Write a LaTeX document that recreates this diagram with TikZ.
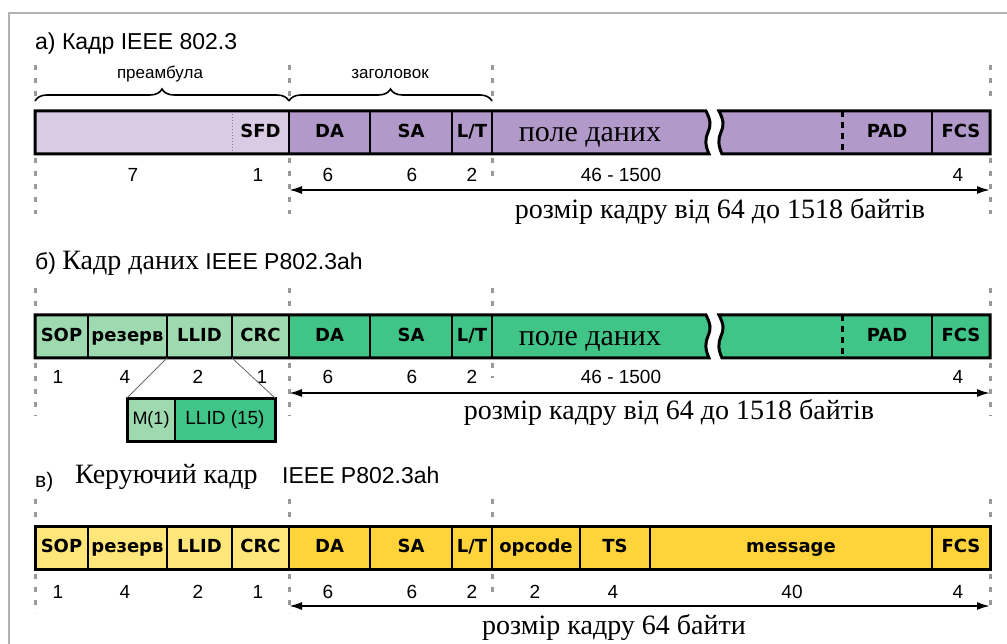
\documentclass[tikz,border=0pt]{standalone}
\usepackage{fontspec}
\setmainfont{Liberation Serif}
\newfontfamily\sansf{Liberation Sans}
\newfontfamily\cellf{DejaVu Sans}
\usetikzlibrary{arrows.meta, decorations.pathreplacing, positioning}

\definecolor{purLight}{RGB}{218,203,228}
\definecolor{purDark}{RGB}{177,153,201}
\definecolor{grnLight}{RGB}{158,217,176}
\definecolor{grnDark}{RGB}{64,196,136}
\definecolor{ylwLight}{RGB}{255,230,122}
\definecolor{ylwDark}{RGB}{255,212,58}

% хвилясті краї розриву поля даних
\newcommand{\wavedown}{.. controls +(5,10) and +(3,-7) .. ++(2,21) .. controls +(-3,7) and +(-4,-9) .. ++(1,22)}
\newcommand{\waveup}{.. controls +(-4,-9) and +(-3,7) .. ++(-1,-22) .. controls +(3,-7) and +(5,10) .. ++(-2,-21)}

\tikzset{
  cell/.style={draw=black, line width=1.3pt, inner sep=0pt, outer sep=0pt,
    minimum height=43pt, text height=13pt, text depth=3pt,
    font=\cellf\bfseries\fontsize{18}{21}\selectfont},
  frame/.style={line width=3pt, line join=miter},
  guide/.style={draw=black!40, line width=3pt, dash pattern=on 5pt off 8pt},
  num/.style={font=\sansf\fontsize{19}{22}\selectfont, inner sep=0pt},
  sizetext/.style={font=\fontsize{28}{32}\selectfont, inner sep=0pt},
  title/.style={font=\sansf\fontsize{23}{27}\selectfont, inner sep=0pt},
  fieldtext/.style={font=\fontsize{30}{34}\selectfont, inner sep=0pt, anchor=base},
  small/.style={font=\sansf\fontsize{17}{20}\selectfont, inner sep=0pt},
  span/.style={{Latex[length=13pt,width=8pt]}-{Latex[length=13pt,width=8pt]}, line width=2pt},
  brace/.style={decorate, decoration={brace, amplitude=12pt}, line width=1.6pt}
}

\begin{document}
\begin{tikzpicture}[x=1pt, y=-1pt]
    \useasboundingbox (0,0) rectangle (1007,644);
    % рамка
    \draw[gray!60, line width=2pt] (9,644) -- (9,13) -- (1007,13);

    % ---------- а) Кадр IEEE 802.3 ----------
    \node[title, anchor=base west] (aTitle) at (35,50) {а) Кадр IEEE 802.3};
    \foreach \x in {35,289,492,990} \draw[guide] (\x,65) -- (\x,102);
    \foreach \x in {35,289,990} \draw[guide] (\x,158) -- (\x,214);
    \draw[guide] (492,158) -- (492,180);

    \coordinate (preL) at (35,101);
    \coordinate (preR) at (289,101);
    \coordinate (hdrR) at (492,101);
    \draw[brace] (preL) -- (preR);
    \draw[brace] (preR) -- (hdrR);
    \node[small] (aPreText) at (160,74) {преамбула};
    \node[small] (aHdrText) at (390,74) {заголовок};

    \node[cell, draw=none, fill=purLight, minimum width=197pt] (aPre) at (133.5,132.5) {};
    \node[cell, draw=none, fill=purLight, minimum width=57pt] (aSFD) at (260.5,132.5) {SFD};
    \node[cell, fill=purDark, minimum width=81pt] (aDA) at (329.5,132.5) {DA};
    \node[cell, fill=purDark, minimum width=82pt] (aSA) at (411,132.5) {SA};
    \node[cell, fill=purDark, minimum width=40pt] (aLT) at (472,132.5) {L/T};
    \fill[purDark] (492,111) -- (706,111) \wavedown -- (492,154) -- cycle;
    \fill[purDark] (722,154) \waveup -- (842,111) -- (842,154) -- cycle;
    \node[fieldtext] (aData) at (590,142) {поле даних};
    \node[cell, draw=none, fill=purDark, minimum width=90pt] (aPAD) at (887,132.5) {PAD};
    \node[cell, fill=purDark, minimum width=58pt] (aFCS) at (961,132.5) {FCS};
    \draw[gray, dotted, line width=1pt] (aSFD.north west) -- (aSFD.south west);
    \draw[line width=3pt, dash pattern=on 6pt off 5pt] (aPAD.north west) -- (aPAD.south west);
    \draw[line width=2.5pt] (aLT.north east) -- (aLT.south east);
    \draw[frame] (35,111) -- (706,111) \wavedown -- (35,154) -- cycle;
    \draw[frame] (722,154) \waveup -- (990,111) -- (990,154) -- cycle;

    \node[num] (aN1) at (133,175) {7};
    \node[num] (aN2) at (258,175) {1};
    \node[num] (aN3) at (328,175) {6};
    \node[num] (aN4) at (412,175) {6};
    \node[num] (aN5) at (472,175) {2};
    \node[num] (aN6) at (621,175) {46 - 1500};
    \node[num] (aN7) at (958,175) {4};
    \coordinate (aArrL) at (289,190);
    \coordinate (aArrR) at (990,190);
    \draw[span] (aArrL) -- (aArrR);
    \node[sizetext] (aSize) at (720,212) {розмір кадру від 64 до 1518 байтів};

    % ---------- б) Кадр даних IEEE P802.3ah ----------
    \node[title, anchor=base west] (bTitle) at (35,270)
        {б) {\rmfamily\fontsize{28}{30}\selectfont Кадр даних} IEEE P802.3ah};
    \foreach \x in {35,289,492,990} \draw[guide] (\x,288) -- (\x,312);
    \foreach \x in {35,289,990} \draw[guide] (\x,363) -- (\x,416);
    \draw[guide] (492,363) -- (492,378);

    \node[cell, fill=grnLight, minimum width=53pt] (bSOP) at (61.5,336.5) {SOP};
    \node[cell, fill=grnLight, minimum width=79pt] (bRes) at (127.5,336.5) {резерв};
    \node[cell, fill=grnLight, minimum width=65pt] (bLLID) at (199.5,336.5) {LLID};
    \node[cell, fill=grnLight, minimum width=57pt] (bCRC) at (260.5,336.5) {CRC};
    \node[cell, fill=grnDark, minimum width=81pt] (bDA) at (329.5,336.5) {DA};
    \node[cell, fill=grnDark, minimum width=82pt] (bSA) at (411,336.5) {SA};
    \node[cell, fill=grnDark, minimum width=40pt] (bLT) at (472,336.5) {L/T};
    \fill[grnDark] (492,315) -- (706,315) \wavedown -- (492,358) -- cycle;
    \fill[grnDark] (722,358) \waveup -- (842,315) -- (842,358) -- cycle;
    \node[fieldtext] (bData) at (590,346) {поле даних};
    \node[cell, draw=none, fill=grnDark, minimum width=90pt] (bPAD) at (887,336.5) {PAD};
    \node[cell, fill=grnDark, minimum width=58pt] (bFCS) at (961,336.5) {FCS};
    \draw[line width=3pt, dash pattern=on 6pt off 5pt] (bPAD.north west) -- (bPAD.south west);
    \draw[line width=2.5pt] (bLT.north east) -- (bLT.south east);
    \draw[frame] (35,315) -- (706,315) \wavedown -- (35,358) -- cycle;
    \draw[frame] (722,358) \waveup -- (990,315) -- (990,358) -- cycle;

    \node[num] (bN1) at (58,377) {1};
    \node[num] (bN2) at (125,377) {4};
    \node[num] (bN3) at (198,377) {2};
    \node[num] (bN4) at (262,377) {1};
    \node[num] (bN5) at (328,377) {6};
    \node[num] (bN6) at (412,377) {6};
    \node[num] (bN7) at (472,377) {2};
    \node[num] (bN8) at (621,377) {46 - 1500};
    \node[num] (bN9) at (958,377) {4};

    % розкладання поля LLID
    \node[cell, fill=grnLight, minimum width=48pt, font=\sansf\fontsize{18}{21}\selectfont] (bM) at (151,419.5) {M(1)};
    \node[cell, fill=grnDark, minimum width=100pt, font=\sansf\fontsize{19}{22}\selectfont] (bLs) at (225,419.5) {LLID (15)};
    \draw[frame] (bM.north west) rectangle (bLs.south east);
    \draw[line width=2.5pt] (bM.north east) -- (bM.south east);
    \draw[gray!80!black, line width=0.8pt] (bLLID.south west) -- (bM.north west);
    \draw[gray!80!black, line width=0.8pt] (bLLID.south east) -- (bLs.north east);

    \coordinate (bArrL) at (289,393);
    \coordinate (bArrR) at (990,393);
    \draw[span] (bArrL) -- (bArrR);
    \node[sizetext] (bSize) at (669,412) {розмір кадру від 64 до 1518 байтів};

    % ---------- в) Керуючий кадр IEEE P802.3ah ----------
    \node[title, anchor=base west, font=\sansf\fontsize{21}{24}\selectfont] (cTitleA) at (35,487) {в)};
    \node[anchor=base west, inner sep=0pt, font=\fontsize{28}{32}\selectfont] (cTitleB) at (75,483) {Керуючий кадр};
    \node[title, anchor=base west] (cTitleC) at (282,483) {IEEE P802.3ah};
    \foreach \x in {35,289,492,990} \draw[guide] (\x,499) -- (\x,522);
    \foreach \x in {35,289,990} \draw[guide] (\x,574) -- (\x,613);
    \draw[guide] (492,574) -- (492,598);

    \node[cell, fill=ylwLight, minimum width=53pt] (cSOP) at (61.5,547.5) {SOP};
    \node[cell, fill=ylwLight, minimum width=79pt] (cRes) at (127.5,547.5) {резерв};
    \node[cell, fill=ylwLight, minimum width=65pt] (cLLID) at (199.5,547.5) {LLID};
    \node[cell, fill=ylwLight, minimum width=57pt] (cCRC) at (260.5,547.5) {CRC};
    \node[cell, fill=ylwDark, minimum width=81pt] (cDA) at (329.5,547.5) {DA};
    \node[cell, fill=ylwDark, minimum width=82pt] (cSA) at (411,547.5) {SA};
    \node[cell, fill=ylwDark, minimum width=40pt] (cLT) at (472,547.5) {L/T};
    \node[cell, fill=ylwDark, minimum width=88pt] (cOp) at (536,547.5) {opcode};
    \node[cell, fill=ylwDark, minimum width=70pt] (cTS) at (615,547.5) {TS};
    \node[cell, fill=ylwDark, minimum width=282pt] (cMsg) at (791,547.5) {message};
    \node[cell, fill=ylwDark, minimum width=58pt] (cFCS) at (961,547.5) {FCS};
    \draw[line width=2.5pt] (cLT.north east) -- (cLT.south east);
    \draw[frame] (cSOP.north west) rectangle (cFCS.south east);

    \node[num] (cN1) at (58,592) {1};
    \node[num] (cN2) at (125,592) {4};
    \node[num] (cN3) at (198,592) {2};
    \node[num] (cN4) at (258,592) {1};
    \node[num] (cN5) at (328,592) {6};
    \node[num] (cN6) at (412,592) {6};
    \node[num] (cN7) at (472,592) {2};
    \node[num] (cN8) at (535,592) {2};
    \node[num] (cN9) at (613,592) {4};
    \node[num] (cN10) at (792,592) {40};
    \node[num] (cN11) at (958,592) {4};
    \coordinate (cArrL) at (289,606);
    \coordinate (cArrR) at (990,606);
    \draw[span] (cArrL) -- (cArrR);
    \node[sizetext] (cSize) at (614,627) {розмір кадру 64 байти};
\end{tikzpicture}
\end{document}
